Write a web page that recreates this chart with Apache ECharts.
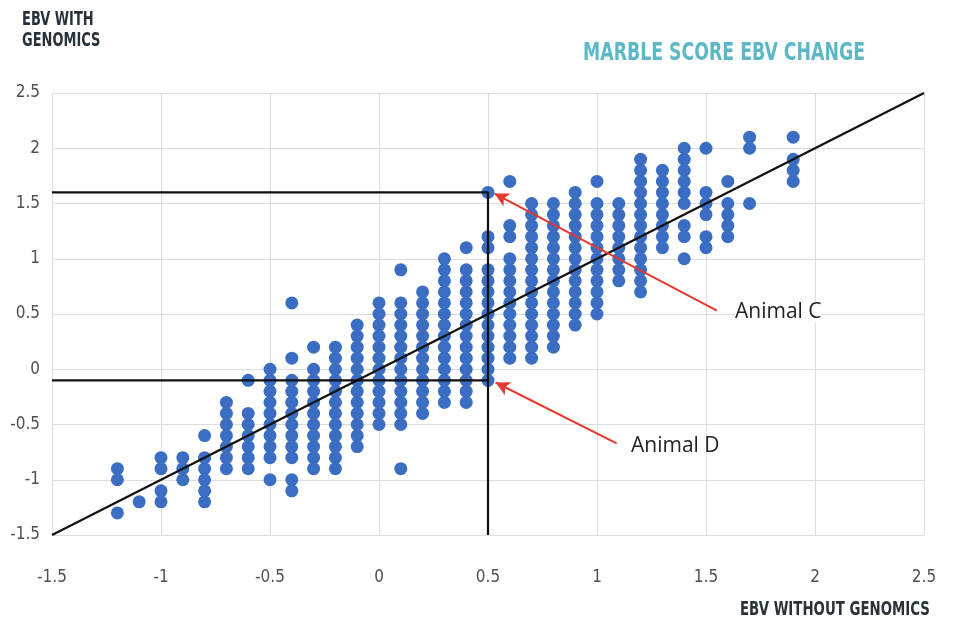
<!DOCTYPE html>
<html>
<head>
<meta charset="utf-8">
<script src="https://cdn.jsdelivr.net/npm/echarts@6/dist/echarts.min.js"></script>
<style>
  html, body { margin: 0; padding: 0; background: #ffffff; }
  #chart { width: 953px; height: 624px; }
</style>
</head>
<body>
<div id="chart"></div>
<script>
// EBV without genomics (x) for each column of animals
const columnX = [-1.2, -1.1, -1.0, -0.9, -0.8, -0.7, -0.6, -0.5, -0.4, -0.3, -0.2, -0.1,
  0, 0.1, 0.2, 0.3, 0.4, 0.5, 0.6, 0.7, 0.8, 0.9, 1.0, 1.1, 1.2, 1.3, 1.4, 1.5, 1.6, 1.7, 1.9];

// EBV with genomics (y) for the animals in each column, same order as columnX
const columnY = [
  [-0.9, -1.0, -1.3],
  [-1.2],
  [-0.8, -0.9, -1.1, -1.2],
  [-0.8, -0.9, -1.0],
  [-0.6, -0.8, -0.9, -1.0, -1.1, -1.2],
  [-0.3, -0.4, -0.5, -0.6, -0.7, -0.8, -0.9],
  [-0.1, -0.4, -0.5, -0.6, -0.7, -0.8, -0.9],
  [0, -0.1, -0.2, -0.3, -0.4, -0.5, -0.6, -0.7, -0.8, -1.0],
  [0.6, 0.1, -0.1, -0.2, -0.3, -0.4, -0.5, -0.6, -0.7, -0.8, -1.0, -1.1],
  [0.2, 0, -0.1, -0.2, -0.3, -0.4, -0.5, -0.6, -0.7, -0.8, -0.9],
  [0.2, 0.1, 0, -0.1, -0.2, -0.3, -0.4, -0.5, -0.6, -0.7, -0.8, -0.9],
  [0.4, 0.3, 0.2, 0.1, 0, -0.1, -0.2, -0.3, -0.4, -0.5, -0.6, -0.7],
  [0.6, 0.5, 0.4, 0.3, 0.2, 0.1, 0, -0.1, -0.2, -0.3, -0.4, -0.5],
  [0.9, 0.6, 0.5, 0.4, 0.3, 0.2, 0.1, 0, -0.1, -0.2, -0.3, -0.4, -0.5, -0.9],
  [0.7, 0.6, 0.5, 0.4, 0.3, 0.2, 0.1, 0, -0.1, -0.2, -0.3, -0.4],
  [1.0, 0.9, 0.8, 0.7, 0.6, 0.5, 0.4, 0.3, 0.2, 0.1, 0, -0.1, -0.2, -0.3],
  [1.1, 0.9, 0.8, 0.7, 0.6, 0.5, 0.4, 0.3, 0.2, 0.1, 0, -0.1, -0.2, -0.3],
  [1.6, 1.2, 1.1, 0.9, 0.8, 0.7, 0.6, 0.5, 0.4, 0.3, 0.2, 0.1, 0, -0.1],
  [1.7, 1.3, 1.2, 1.0, 0.9, 0.8, 0.7, 0.6, 0.5, 0.4, 0.3, 0.2, 0.1],
  [1.5, 1.4, 1.3, 1.2, 1.1, 1.0, 0.9, 0.8, 0.7, 0.6, 0.5, 0.4, 0.3, 0.2, 0.1],
  [1.5, 1.4, 1.3, 1.2, 1.1, 1.0, 0.9, 0.8, 0.7, 0.6, 0.5, 0.4, 0.3, 0.2],
  [1.6, 1.5, 1.4, 1.3, 1.2, 1.1, 1.0, 0.9, 0.8, 0.7, 0.6, 0.5, 0.4],
  [1.7, 1.5, 1.4, 1.3, 1.2, 1.1, 1.0, 0.9, 0.8, 0.7, 0.6, 0.5],
  [1.5, 1.4, 1.3, 1.2, 1.1, 1.0, 0.9, 0.8],
  [1.9, 1.8, 1.7, 1.6, 1.5, 1.4, 1.3, 1.2, 1.1, 1.0, 0.9, 0.8, 0.7],
  [1.8, 1.7, 1.6, 1.5, 1.4, 1.3, 1.2, 1.1],
  [2.0, 1.9, 1.8, 1.7, 1.6, 1.5, 1.3, 1.2, 1.0],
  [2.0, 1.6, 1.5, 1.4, 1.2, 1.1],
  [1.7, 1.5, 1.4, 1.3, 1.2],
  [2.1, 2.0, 1.5],
  [2.1, 1.9, 1.8, 1.7]
];

// 1:1 reference line (no change between the two EBVs)
const diagonalX = [-1.5, 2.5];
const diagonalY = [-1.5, 2.5];

// highlighted animals: [EBV without genomics, EBV with genomics]
const animalC = [0.5, 1.6];
const animalD = [0.5, -0.1];
const axisMin = -1.5;
const axisMax = 2.5;
const tickStep = 0.5;

const points = [];
columnX.forEach((x, i) => columnY[i].forEach(y => points.push([x, y])));

const condensed = '"Liberation Sans Narrow", "DejaVu Sans Condensed", "Roboto", sans-serif';
const refLine = { color: '#111111', width: 2.2 };

const chart = echarts.init(document.getElementById('chart'), null, { renderer: 'canvas' });

// condensed heading text, squeezed horizontally from its left edge
function heading(text, x, y, size, color, squeeze) {
  return {
    type: 'text', x: x, y: y, scaleX: squeeze, scaleY: 1, originX: 0, originY: 0,
    style: { text: text, fill: color, font: 'bold ' + size + 'px ' + condensed,
             textVerticalAlign: 'top', lineHeight: Math.round(size * 1.12) }
  };
}

chart.setOption({
  animation: false,
  backgroundColor: '#ffffff',
  grid: { left: 52, right: 29, top: 93, bottom: 89 },
  xAxis: {
    type: 'value', min: axisMin, max: axisMax, interval: tickStep,
    axisLine: { show: false }, axisTick: { show: false },
    splitLine: { show: true, lineStyle: { color: '#dddddd', width: 1 } },
    axisLabel: { margin: 34, fontFamily: condensed, fontSize: 17, color: '#505050' }
  },
  yAxis: {
    type: 'value', min: axisMin, max: axisMax, interval: tickStep,
    axisLine: { show: false }, axisTick: { show: false },
    splitLine: { show: true, lineStyle: { color: '#dddddd', width: 1 } },
    axisLabel: { margin: 12, fontFamily: condensed, fontSize: 17, color: '#505050' }
  },
  series: [
    {
      type: 'scatter',
      data: points,
      symbolSize: 13,
      itemStyle: { color: '#3b6dc3', opacity: 1 },
      z: 2
    },
    {
      type: 'line',
      data: diagonalX.map((x, i) => [x, diagonalY[i]]),
      symbol: 'none',
      lineStyle: refLine,
      z: 4
    },
    {
      // guide lines marking Animal C
      type: 'line',
      data: [[axisMin, animalC[1]], [animalC[0], animalC[1]], [animalC[0], axisMin]],
      symbol: 'none',
      lineStyle: refLine,
      z: 4
    },
    {
      // guide line marking Animal D, plus the two pointer arrows
      type: 'line',
      data: [[axisMin, animalD[1]], [animalD[0], animalD[1]]],
      symbol: 'none',
      lineStyle: refLine,
      z: 4,
      markLine: {
        silent: true,
        symbol: ['none', 'arrow'],
        symbolSize: [11, 14],
        lineStyle: { color: '#e5392f', width: 2, type: 'solid' },
        label: { show: false },
        data: [
          [{ coord: [animalC[0] + 1.05, animalC[1] - 1.07] }, { coord: [animalC[0] + 0.03, animalC[1] - 0.01] }],
          [{ coord: [animalD[0] + 0.59, animalD[1] - 0.57] }, { coord: [animalD[0] + 0.035, animalD[1] - 0.02] }]
        ]
      }
    }
  ],
  graphic: [
    heading('EBV WITH\nGENOMICS', 22, 10, 19, '#27323a', 0.76),
    heading('MARBLE SCORE EBV CHANGE', 583, 39, 25, '#5bb8c4', 0.77),
    heading('EBV WITHOUT GENOMICS', 740, 600, 19, '#27323a', 0.78),
    {
      type: 'text', left: 735, top: 302, z: 10,
      style: { text: 'Animal C', fill: '#222222', font: '21px "Open Sans", sans-serif',
               backgroundColor: '#ffffff' }
    },
    {
      type: 'text', left: 631, top: 436, z: 10,
      style: { text: 'Animal D', fill: '#222222', font: '21px "Open Sans", sans-serif' }
    }
  ]
});
</script>
</body>
</html>
